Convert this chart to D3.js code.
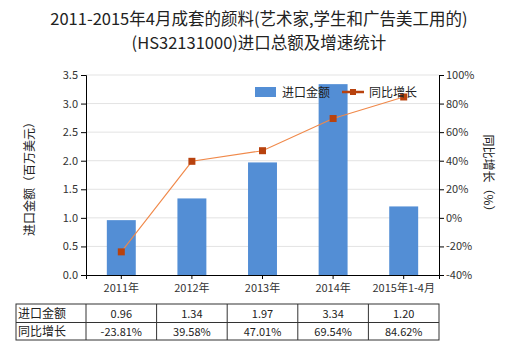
<!DOCTYPE html>
<html><head><meta charset="utf-8">
<script src="https://cdn.jsdelivr.net/npm/d3@7"></script>
<style>body{margin:0;background:#fff}svg{display:block}text{font-family:"Noto Sans CJK SC","Noto Sans",sans-serif}</style>
</head><body><svg id="c" width="520" height="350"></svg>
<script>
const categories = ["2011年","2012年","2013年","2014年","2015年1-4月"];
const importValues = [0.96,1.34,1.97,3.34,1.20];
const growthValues = [-23.81,39.58,47.01,69.54,84.62];
const leftTicks = [0,0.5,1,1.5,2,2.5,3,3.5];
const rightTicks = [-40,-20,0,20,40,60,80,100];
const rowLabels = ["进口金额","同比增长"];

const svg = d3.select("#c");
const L=86, R=439, T=75, B=275;
const x = d3.scaleBand().domain(categories).range([L,R]).paddingInner(0.59).paddingOuter(0.295);
const xc = d3.scaleBand().domain(categories).range([L,R]);
const y = d3.scaleLinear().domain([0,3.5]).range([B,T]);
const y2 = d3.scaleLinear().domain([-40,100]).range([B,T]);

// title
svg.append("text").attr("x",259).attr("y",25).attr("text-anchor","middle").attr("font-size",16.5).attr("fill","#222").text("2011-2015年4月成套的颜料(艺术家,学生和广告美工用的)");
svg.append("text").attr("x",259).attr("y",49).attr("text-anchor","middle").attr("font-size",16.5).attr("fill","#222").text("(HS32131000)进口总额及增速统计");

// grid
svg.append("g").selectAll("line").data(leftTicks.slice(1)).join("line")
 .attr("x1",L).attr("x2",R).attr("y1",d=>y(d)).attr("y2",d=>y(d)).attr("stroke","#e3e3e3").attr("stroke-width",1);

// bars
svg.append("g").selectAll("rect").data(categories).join("rect")
 .attr("x",d=>x(d)).attr("width",x.bandwidth()).attr("y",(d,i)=>y(importValues[i])).attr("height",(d,i)=>B-y(importValues[i])).attr("fill","#538ed5");

// axes
const gl = svg.append("g").attr("transform",`translate(${L},0)`).call(d3.axisLeft(y).tickValues(leftTicks).tickFormat(d3.format(".1f")).tickSizeOuter(0).tickSize(5).tickPadding(3));
const gr = svg.append("g").attr("transform",`translate(${R},0)`).call(d3.axisRight(y2).tickValues(rightTicks).tickFormat(d=>d+"%").tickSizeOuter(0).tickSize(5).tickPadding(2));
const gb = svg.append("g").attr("transform",`translate(0,${B})`).call(d3.axisBottom(xc).tickSizeOuter(0).tickSize(4).tickPadding(5));
[gl,gr,gb].forEach(g=>{g.selectAll("path,line").attr("stroke","#000");g.selectAll("text").attr("font-size",11).attr("fill","#333").attr("font-family","'Noto Sans CJK SC',sans-serif");});

// line
const line = d3.line().x((d,i)=>xc(categories[i])+xc.bandwidth()/2).y(d=>y2(d));
svg.append("path").datum(growthValues).attr("d",line).attr("fill","none").attr("stroke","#f0894a").attr("stroke-width",1.1);
svg.append("g").selectAll("rect").data(growthValues).join("rect")
 .attr("x",(d,i)=>xc(categories[i])+xc.bandwidth()/2-3.5).attr("y",d=>y2(d)-3.5).attr("width",7).attr("height",7).attr("fill","#b8420e");

// axis titles
svg.append("text").attr("transform","translate(34,176) rotate(-90)").attr("text-anchor","middle").attr("font-size",12).attr("fill","#222").text("进口金额（百万美元）");
svg.append("text").attr("transform","translate(484,176) rotate(90)").attr("text-anchor","middle").attr("font-size",12).attr("fill","#222").text("同比增长（%）");

// legend
svg.append("rect").attr("x",255).attr("y",87).attr("width",21).attr("height",10).attr("fill","#538ed5");
svg.append("text").attr("x",282).attr("y",96.5).attr("font-size",12).attr("fill","#222").text("进口金额");
svg.append("line").attr("x1",342).attr("x2",364).attr("y1",92).attr("y2",92).attr("stroke","#b8420e").attr("stroke-width",2.5);
svg.append("rect").attr("x",350).attr("y",89).attr("width",6).attr("height",6).attr("fill","#b8420e");
svg.append("text").attr("x",369).attr("y",96.5).attr("font-size",12).attr("fill","#222").text("同比增长");

// table
const tT=304, tM=322.5, tB=340, tL=16;
const tab = svg.append("g");
tab.append("rect").attr("x",tL).attr("y",tT).attr("width",R-tL).attr("height",tB-tT).attr("fill","none").attr("stroke","#333");
tab.append("line").attr("x1",tL).attr("x2",R).attr("y1",tM).attr("y2",tM).attr("stroke","#333");
tab.selectAll("line.v").data(categories).join("line").attr("class","v")
 .attr("x1",d=>xc(d)).attr("x2",d=>xc(d)).attr("y1",tT).attr("y2",tB).attr("stroke","#333");
rowLabels.forEach((lab,r)=>{
 tab.append("text").attr("x",tL+2).attr("y",(r?tM:tT)+13.5).attr("font-size",12).attr("fill","#222").text(lab);
});
tab.selectAll("text.v1").data(importValues).join("text").attr("class","v1")
 .attr("x",(d,i)=>xc(categories[i])+xc.bandwidth()/2).attr("y",tT+14).attr("text-anchor","middle").attr("font-size",11).attr("fill","#222").text(d=>d.toFixed(2));
tab.selectAll("text.v2").data(growthValues).join("text").attr("class","v2")
 .attr("x",(d,i)=>xc(categories[i])+xc.bandwidth()/2).attr("y",tM+13.5).attr("text-anchor","middle").attr("font-size",11).attr("fill","#222").text(d=>d.toFixed(2)+"%");
</script></body></html>
